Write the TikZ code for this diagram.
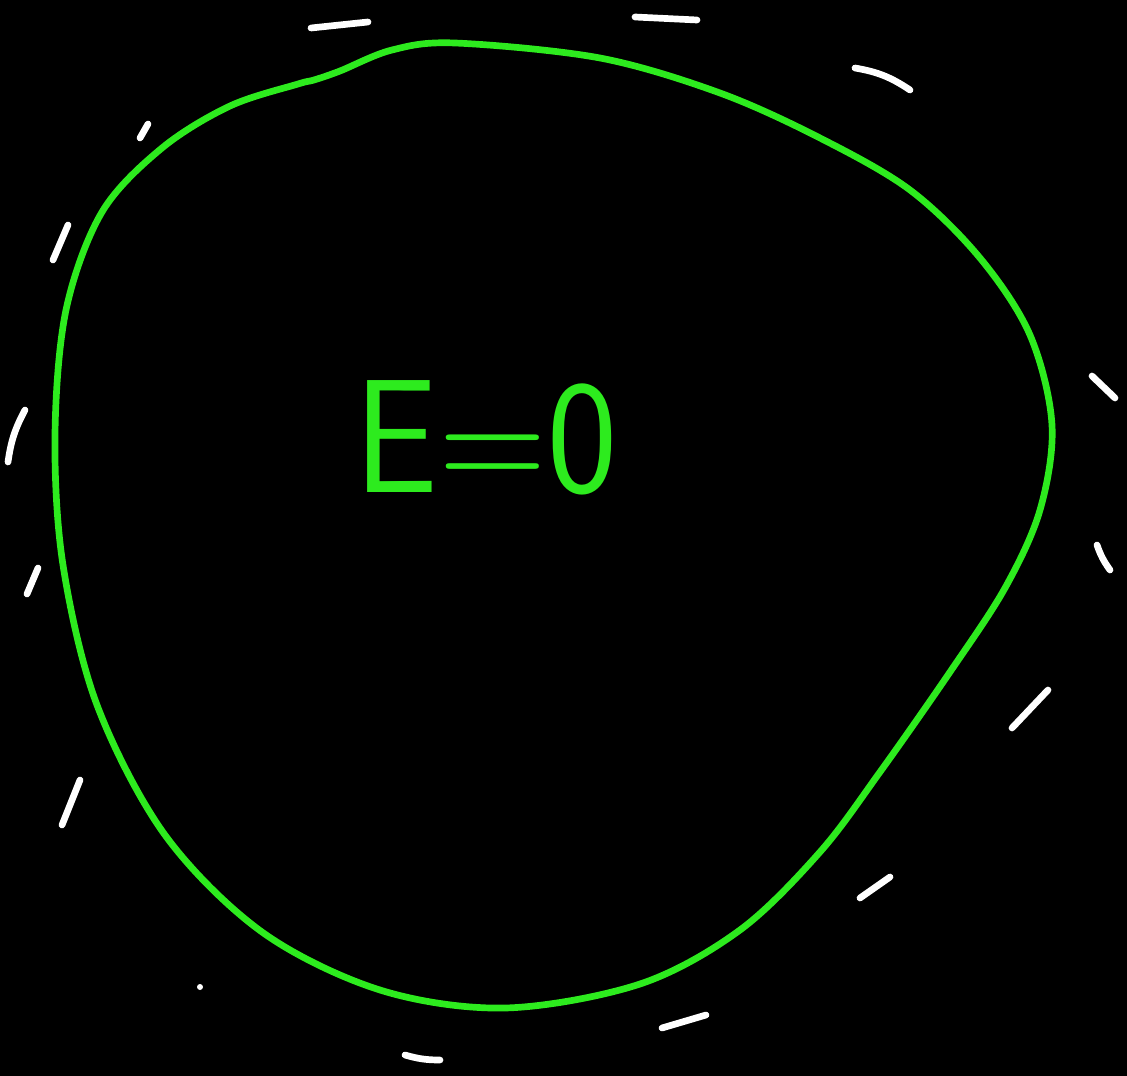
\documentclass[tikz,border=0pt]{standalone}
\usepackage{xcolor}
\usepackage{tikz}
\definecolor{neon}{RGB}{45,235,30}

\begin{document}
\begin{tikzpicture}[x=0.01cm, y=-0.01cm,
  rim/.style={draw=neon, line width=1.9pt, line join=round},
  chalk/.style={draw=white, line width=1.9pt, line cap=round},
  lbl/.style={text=neon, font=\sffamily\fontsize{46}{50}\selectfont, inner sep=0pt, xscale=0.92}]
\fill[black] (0,0) rectangle (1127,1076);
\useasboundingbox (0,0) rectangle (1127,1076);
% the closed region
\draw[rim] plot[smooth cycle, tension=0.55] coordinates {
  (455,43) (600,58) (720,93) (820,138) (910,190) (980,258) (1030,335)
  (1052,425) (1040,510) (1005,588) (950,672) (880,772) (820,852)
  (740,930) (640,984) (505,1008) (380,990) (262,932) (165,835)
  (97,705) (63,565) (55,435) (66,310) (102,212) (162,148) (230,106)
  (298,84) (314,80) (340,71) (392,50)};
\node[lbl] (field) at (486,438) {E=0};
% surrounding strokes
\draw[chalk] (311,28) -- (368,22);
\draw[chalk] (635,17) -- (697,20);
\draw[chalk] (855,68) to[bend left=12] (910,90);
\draw[chalk] (140,138) -- (148,124);
\draw[chalk] (53,260) -- (68,225);
\draw[chalk] (8,462) to[bend left=10] (25,410);
\draw[chalk] (27,594) -- (38,568);
\draw[chalk] (62,825) -- (80,780);
\fill[white] (200,987) circle (3);
\draw[chalk] (405,1055) to[bend right=8] (440,1060);
\draw[chalk] (662,1028) -- (706,1015);
\draw[chalk] (860,898) -- (890,877);
\draw[chalk] (1012,728) -- (1048,690);
\draw[chalk] (1097,545) to[bend right=8] (1110,570);
\draw[chalk] (1092,376) -- (1115,398);
\end{tikzpicture}
\end{document}
